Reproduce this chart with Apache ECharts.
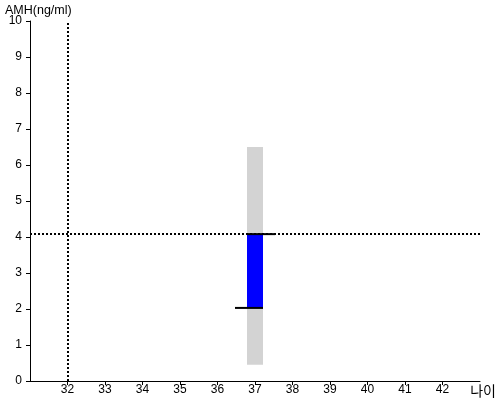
<!DOCTYPE html>
<html>
<head>
<meta charset="utf-8">
<script src="https://cdn.jsdelivr.net/npm/echarts@6/dist/echarts.min.js"></script>
<style>html,body{margin:0;padding:0;background:#fff}#c{width:500px;height:400px}</style>
</head>
<body>
<div id="c"></div>
<script>
var xTicks = [32, 33, 34, 35, 36, 37, 38, 39, 40, 41, 42];
var yTicks = [0, 1, 2, 3, 4, 5, 6, 7, 8, 9, 10];
var ageValue = 37;
var rangeLow = 0.45, rangeHigh = 6.5;      // grey reference range
var valueLow = 2.03, valueHigh = 4.08;     // blue bar
var refAge = 32, refAmh = 4.08;            // dotted reference lines
var xName = '나이', yName = 'AMH(ng/ml)';

var chart = echarts.init(document.getElementById('c'), null, {renderer: 'canvas'});
var font = 'Liberation Sans, Arial, sans-serif';

function renderBar(params, api) {
  var x = api.value(0), lo = api.value(1), hi = api.value(2), kind = api.value(3);
  var pLo = api.coord([x, lo]), pHi = api.coord([x, hi]);
  var w = 16, cx = pLo[0];
  var children = [{
    type: 'rect',
    shape: {x: cx - w / 2, y: pHi[1], width: w, height: pLo[1] - pHi[1]},
    style: {fill: kind === 0 ? '#d3d3d3' : '#0000ff'}
  }];
  if (kind === 1) {
    children.push({type: 'line', shape: {x1: cx - w / 2 - 12, y1: pLo[1], x2: cx + w / 2, y2: pLo[1]}, style: {stroke: '#000', lineWidth: 2}});
    children.push({type: 'line', shape: {x1: cx - w / 2, y1: pHi[1], x2: cx + w / 2 + 12, y2: pHi[1]}, style: {stroke: '#000', lineWidth: 2}});
  }
  return {type: 'group', children: children};
}

chart.setOption({
  animation: false,
  grid: {left: 30, right: 20, top: 21, bottom: 19, containLabel: false},
  xAxis: {
    type: 'value', min: 31, max: 43, interval: 1,
    axisLine: {show: true, lineStyle: {color: '#000', width: 1}},
    axisTick: {show: true, length: 4, lineStyle: {color: '#000'}, customValues: xTicks},
    axisLabel: {color: '#000', fontSize: 12, fontFamily: font, margin: 3, customValues: xTicks},
    splitLine: {show: false}
  },
  yAxis: {
    type: 'value', min: 0, max: 10, interval: 1,
    axisLine: {show: true, lineStyle: {color: '#000', width: 1}},
    axisTick: {show: true, length: 4, lineStyle: {color: '#000'}, customValues: yTicks},
    axisLabel: {color: '#000', fontSize: 12, fontFamily: font, margin: 8, customValues: yTicks},
    splitLine: {show: false}
  },
  graphic: [
    {type: 'text', left: 5, top: 4, style: {text: yName, fill: '#000', font: '12.5px ' + font}},
    {type: 'text', right: 4, top: 384, style: {text: xName, fill: '#000', font: '14px "Noto Sans CJK KR", sans-serif'}}
  ],
  series: [
    {
      type: 'custom',
      renderItem: renderBar,
      data: [[ageValue, rangeLow, rangeHigh, 0], [ageValue, valueLow, valueHigh, 1]],
      z: 2,
      markLine: {
        silent: true, symbol: 'none', animation: false,
        label: {show: false},
        lineStyle: {color: '#000', width: 2, type: [2, 2]},
        data: [{xAxis: refAge}, {yAxis: refAmh}]
      }
    }
  ]
});
</script>
</body>
</html>
